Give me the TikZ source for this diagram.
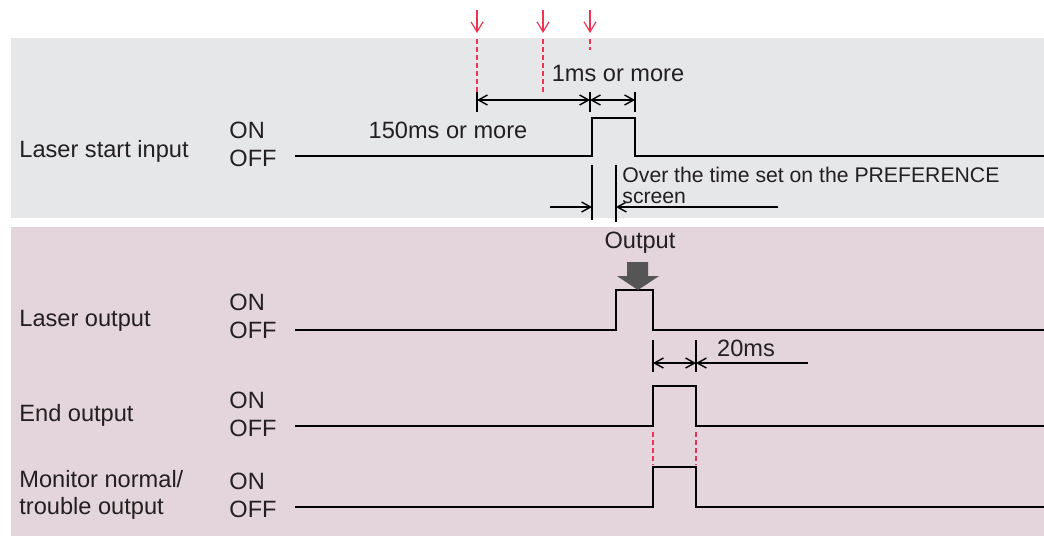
\documentclass[tikz,border=0pt]{standalone}
\usepackage{fontspec}
\setmainfont{Liberation Sans}
\usetikzlibrary{arrows.meta, positioning}
\definecolor{bandgray}{HTML}{E6E7E9}
\definecolor{bandpink}{HTML}{E3D5DB}
\definecolor{markred}{HTML}{EE3455}
\definecolor{txtgray}{HTML}{231F20}
\definecolor{outgray}{HTML}{555555}

\begin{document}
\begin{tikzpicture}[
    x=0.5pt, y=-0.5pt,
    sig/.style={draw=black, line width=1pt, line join=miter},
    dim/.style={draw=black, line width=0.7pt},
    dimarrow/.style={dim, -{Straight Barb[length=4.5pt, width=5pt]}},
    dimboth/.style={dim, {Straight Barb[length=4.5pt, width=5pt]}-{Straight Barb[length=4.5pt, width=5pt]}},
    redline/.style={draw=markred, line width=1.1pt, dash pattern=on 2.5pt off 1.5pt},
    redarrow/.style={draw=markred, line width=0.6pt, -{Straight Barb[length=5pt, width=6pt]}},
    lbl/.style={anchor=west, text=txtgray, inner sep=0pt, font=\fontsize{11.8}{13.5}\selectfont, align=left},
    txt/.style={text=txtgray, inner sep=0pt, font=\fontsize{11.8}{13.5}\selectfont},
    note/.style={anchor=west, text=txtgray, inner sep=0pt, font=\fontsize{10.6}{10.5}\selectfont, align=left}
]
\useasboundingbox (0,0) rectangle (1044,536);

% bands
\fill[bandgray] (11,38) rectangle (1044,218);
\fill[bandpink] (11,227) rectangle (1044,536);

% signal names
\node[lbl] (start) at (19,151) {Laser start input};
\node[lbl] (laser) at (19,321) {Laser output};
\node[lbl] (end) at (19,415) {End output};
\node[lbl] (monitor) at (19,495) {Monitor normal/\\trouble output};

% ON / OFF levels
\foreach \name/\y in {start/130, laser/302, end/400, monitor/481} {
  \node[lbl] (\name-on) at (229,\y) {ON};
  \node[lbl] (\name-off) at (229,\y+28) {OFF};
}

% waveforms
\draw[sig] (295,156) -- (592,156) -- (592,118) -- (635,118) -- (635,156) -- (1044,156);
\draw[sig] (295,330) -- (616,330) -- (616,290) -- (653,290) -- (653,330) -- (1044,330);
\draw[sig] (295,426) -- (653,426) -- (653,386) -- (696,386) -- (696,426) -- (1044,426);
\draw[sig] (295,507) -- (653,507) -- (653,467) -- (696,467) -- (696,507) -- (1044,507);

% trigger marks
\foreach \x/\yb in {477/92, 543/95, 590/50} {
  \draw[redarrow] (\x,10) -- (\x,33);
  \draw[redline] (\x,39) -- (\x,\yb);
}
\draw[redline] (653,432) -- (653,465);
\draw[redline] (696,432) -- (696,465);

% 150ms / 1ms
\coordinate (t0) at (477,100);
\coordinate (t1) at (590,100);
\coordinate (t2) at (635,100);
\foreach \c in {t0, t1, t2}
  \draw[dim] ([yshift=4pt] \c) -- ([yshift=-6pt] \c);
\draw[dimboth] (t0) -- (t1);
\draw[dimboth] (t1) -- (t2);
\node[txt] (onems) at (618,73) {1ms or more};
\node[txt] (longms) at (448,130) {150ms or more};

% preference time
\draw[dim] (592,165) -- (592,220);
\draw[dim] (616,165) -- (616,222);
\coordinate (p0) at (550,207);
\coordinate (p1) at (778,207);
\draw[dimarrow] (p0) -- (592,207);
\draw[dimarrow] (p1) -- (616,207);
\node[note] (pref) at (622,185.5) {Over the time set on the PREFERENCE\\screen};

% output marker
\node[txt] (output) at (640,243) {Output};
\fill[outgray] (627,262) -- (648,262) -- (648,276) -- (659,276) -- (638,290) -- (617,276) -- (627,276) -- cycle;

% 20ms
\coordinate (e0) at (653,363);
\coordinate (e1) at (696,363);
\coordinate (e2) at (808,363);
\foreach \c in {e0, e1}
  \draw[dim] ([yshift=11.5pt] \c) -- ([yshift=-4.5pt] \c);
\draw[dimboth] (e0) -- (e1);
\draw[dimarrow] (e2) -- (e1);
\node[txt] (twentyms) at (746,348) {20ms};
\end{tikzpicture}
\end{document}
